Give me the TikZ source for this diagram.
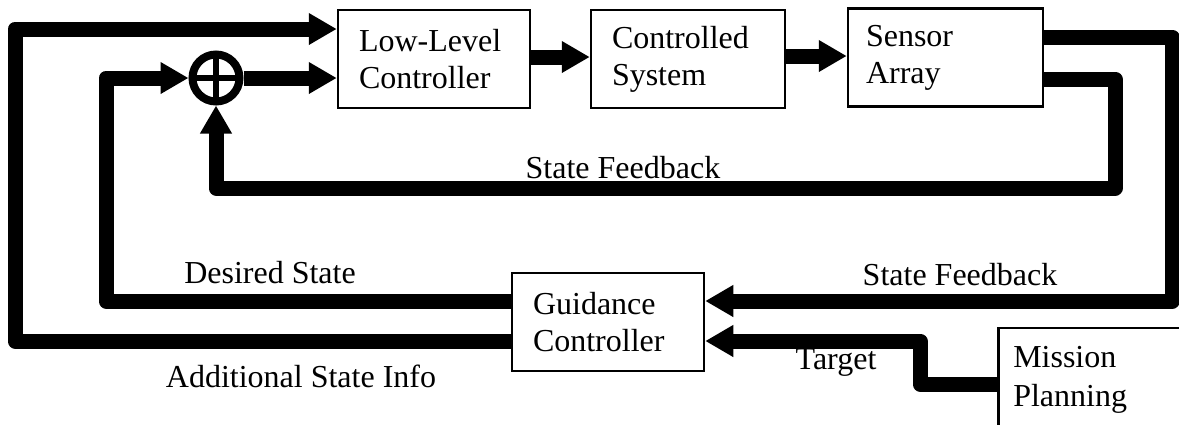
\documentclass[tikz,border=0pt]{standalone}
\usepackage{fontspec}
\setmainfont{Liberation Serif}
\usetikzlibrary{arrows.meta}
\begin{document}
\begin{tikzpicture}[x=1pt,y=-1pt,
  txt/.style={font=\fontsize{32pt}{37pt}\selectfont},
  box/.style={txt, draw, line width=2.5pt, inner xsep=21pt, inner ysep=0pt,
    align=left, minimum height=98pt},
  lbl/.style={txt, inner sep=0pt, anchor=base},
  flow/.style={line width=15pt, line join=round,
    -{Triangle[length=28pt,width=30pt]}},
  sumnode/.style={circle, draw, line width=8pt, minimum size=47pt, inner sep=0pt},
  cross/.style={line width=6.5pt}]
\useasboundingbox (0,0) rectangle (1179,424);
\clip (0,0) rectangle (1179,424);

% blocks
\node[box, minimum width=192pt, text width=150pt] (ll) at (434,59) {Low-Level\\Controller};
\node[box, minimum width=194pt, text width=152pt] (cs) at (688,59) {Controlled\\System};
\node[box, minimum width=195pt, text width=159pt, inner xsep=18pt] (sa) at (945.5,57.5) {Sensor\\Array};
\node[box, minimum width=192pt, text width=150pt] (gc) at (608,322) {Guidance\\Controller};
\node[box, anchor=west, minimum width=260pt, minimum height=104pt, text width=230pt, inner xsep=15pt] (mp) at (997,380) {Mission\\[2pt]Planning};

% summing junction
\node[sumnode] (s) at (216,78) {};
\draw[cross] (s.center) +(0,-23.5) -- +(0,23.5);
\draw[cross] (s.center) +(-23.5,0) -- +(23.5,0);

% forward path
\draw[flow] (s.east) -- (ll.west |- s.east);
\draw[flow] (ll.east |- 0,57) -- (cs.west |- 0,57);
\draw[flow] (cs.east |- 0,56) -- (sa.west |- 0,56);

% inner state feedback
\draw[flow] (sa.east |- 0,79) -- (1115,79) -- (1115,188) -- (216,188) -- (s.south);

% outer state feedback to guidance
\draw[flow] (sa.east |- 0,37) -- (1172,37) -- (1172,301) -- (gc.east |- 0,301);

% target
\draw[flow] (mp.west |- 0,384) -- (920,384) -- (920,341) -- (gc.east |- 0,341);

% desired state
\draw[flow] (gc.west |- 0,301) -- (106,301) -- (106,78) -- (s.west);

% additional state info
\draw[flow] (gc.west |- 0,341) -- (15,341) -- (15,29) -- (ll.west |- 0,29);

% labels
\node[lbl] (l1) at (623,178) {State Feedback};
\node[lbl] (l2) at (270,283) {Desired State};
\node[lbl] (l3) at (301,387) {Additional State Info};
\node[lbl] (l4) at (960,285) {State Feedback};
\node[lbl] (l5) at (836,369) {Target};
\end{tikzpicture}
\end{document}
